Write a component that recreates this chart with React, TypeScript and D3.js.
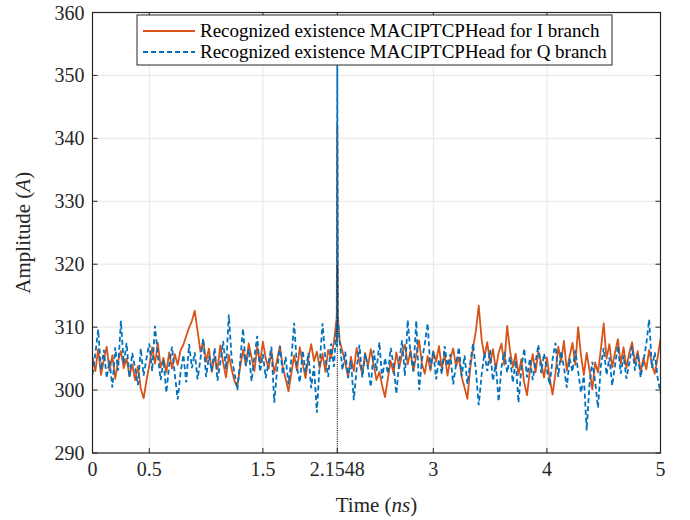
import React from "react";
import * as d3 from "d3";

// ---- Data (sampled every 0.025 ns from 0 to 5) ----
const timeStep = 0.025;
const iBranch = [
  305.2, 303.0, 306.5, 302.4, 304.8, 306.9, 303.1, 305.5, 301.8, 304.6,
  306.2, 303.5, 305.0, 302.2, 304.1, 301.6, 303.8, 300.2, 298.7, 301.5,
  303.9, 306.8, 304.2, 307.5, 303.6, 305.1, 302.8, 306.0, 303.4, 305.7,
  304.0, 306.3, 307.2, 308.6, 309.9, 311.0, 312.6, 309.4, 306.1, 307.8,
  304.5, 306.6, 302.9, 305.3, 303.2, 307.1, 304.4, 302.0, 305.6, 303.3,
  301.4, 300.6, 303.7, 306.4, 304.0, 307.4, 305.2, 303.0, 306.9, 304.3,
  307.7, 305.0, 303.4, 306.2, 302.7, 304.8, 307.0, 303.6, 301.8, 299.8,
  302.6, 305.5, 303.1, 306.8, 304.2, 301.9, 305.0, 307.3, 304.6, 306.1,
  303.5, 305.8, 302.9, 306.4, 305.1, 307.6, 308.5, 307.8, 306.2, 304.3,
  302.1, 305.3, 303.0, 306.7, 304.4, 302.5, 305.9, 303.8, 306.5, 304.0,
  301.6, 302.9, 300.7, 298.9, 301.8, 304.6, 302.7, 306.0, 303.5, 305.8,
  307.2, 304.1, 306.3, 303.0, 305.6, 307.9, 304.2, 302.6, 305.4, 303.1,
  306.2, 304.5, 307.0, 303.4, 305.7, 302.3, 304.9, 306.6, 303.8, 305.2,
  302.1, 300.4, 298.6, 303.5, 306.8, 309.4, 313.4, 308.1, 305.3, 307.6,
  304.2, 306.5, 303.3, 305.9, 307.4, 304.0, 310.2, 306.3, 303.6, 305.8,
  302.4, 304.9, 301.2, 299.2, 303.0, 305.7, 302.8, 306.1, 304.3, 302.0,
  305.2, 301.8, 299.3, 302.6, 306.9, 304.5, 307.8, 303.1, 305.4, 307.5,
  304.0, 310.0, 305.6, 302.4, 305.9, 303.2, 300.1, 304.4, 302.8, 306.5,
  310.6, 305.0, 307.3, 303.6, 306.0, 308.1, 304.2, 306.8, 303.5, 305.9,
  307.6, 304.3, 306.2, 302.9, 305.1, 303.3, 306.4, 304.0, 302.6, 305.2,
  308.2,
];
const qBranch = [
  302.5, 305.8, 309.6, 303.2, 306.4, 301.9, 304.7, 300.4, 306.8, 303.1,
  311.0, 304.2, 307.5, 302.0, 305.9, 303.4, 300.8, 306.6, 302.3, 305.0,
  307.4, 303.0, 310.2, 305.5, 301.6, 304.8, 299.6, 303.9, 306.9, 302.4,
  298.5, 302.8, 305.6, 301.2, 307.3, 303.5, 306.0, 301.7, 304.9, 308.2,
  302.1, 305.4, 303.0, 306.7, 301.5, 304.3, 307.8, 303.3, 312.0, 305.0,
  302.7, 300.0, 304.6, 309.8, 303.8, 306.5, 301.4, 305.2, 308.6, 302.9,
  305.7, 301.9, 304.4, 306.9, 298.0, 303.2, 307.0, 302.5, 305.3, 300.9,
  304.8, 310.7, 303.6, 301.2, 306.3, 302.8, 305.9, 300.3, 303.9, 296.4,
  304.2, 310.6, 305.0, 302.1, 307.4, 303.7, 306.9, 308.0, 303.2, 306.1,
  301.9, 304.7, 298.4, 303.3, 307.2, 302.0, 305.8, 303.5, 300.5, 306.3,
  303.0, 307.6, 301.8, 305.1, 302.6, 306.7, 303.9, 299.4, 304.5, 307.9,
  302.3, 311.1, 305.6, 303.0, 311.0, 300.0, 304.8, 307.3, 310.6, 303.4,
  306.2, 301.7, 304.9, 302.5, 307.0, 303.8, 305.7, 300.9, 304.1, 306.8,
  302.2, 305.5, 301.0, 304.3, 307.4, 303.1, 297.6, 302.4, 305.9, 303.0,
  306.4, 301.5, 304.2, 298.2, 303.6, 306.1, 302.8, 305.3, 301.2, 304.7,
  298.0, 303.4, 306.6, 302.0, 305.0, 301.6, 304.4, 307.2, 302.7, 305.8,
  303.3, 300.8, 304.9, 307.5, 302.1, 306.2, 303.6, 300.4, 305.0, 302.9,
  306.3, 303.0, 299.6, 302.2, 293.6, 300.9, 304.5, 301.3, 297.2, 303.8,
  306.7, 302.4, 305.2, 300.7, 304.0, 307.0, 302.6, 305.5, 301.8, 304.3,
  306.9, 303.1, 305.8, 302.0, 304.6, 307.3, 311.2, 303.5, 306.0, 301.9,
  299.6,
];
// Detected header peak
const peakTimes = [2.1498, 2.1548, 2.1598];
const peakI = [311.5, 342.0, 312.0];
const peakQ = [310.5, 351.6, 311.0];
const markerTime = 2.1548;
const markerTop = 320;

const xTicks = [0, 0.5, 1.5, 2.1548, 3, 4, 5];
const xTickLabels = ["0", "0.5", "1.5", "2.1548", "3", "4", "5"];
const yTicks = [290, 300, 310, 320, 330, 340, 350, 360];
const legendLabels = [
  "Recognized existence MACIPTCPHead for I branch",
  "Recognized existence MACIPTCPHead for Q branch",
];

type Pt = { t: number; v: number };
function buildSeries(values: number[], pv: number[]): Pt[] {
  const pts: Pt[] = values.map((v, i) => ({ t: +(i * timeStep).toFixed(4), v }));
  peakTimes.forEach((t, k) => pts.push({ t, v: pv[k] }));
  return pts.sort((a, b) => a.t - b.t);
}

const W = 690;
const H = 520;
const M = { left: 92.5, right: 660.5, top: 12.5, bottom: 453 };

export default function App() {
  const x = d3.scaleLinear().domain([0, 5]).range([M.left, M.right]);
  const y = d3.scaleLinear().domain([290, 360]).range([M.bottom, M.top]);
  const line = d3
    .line<Pt>()
    .x((d) => x(d.t))
    .y((d) => y(d.v));
  const sI = buildSeries(iBranch, peakI);
  const sQ = buildSeries(qBranch, peakQ);
  const orange = "#D95319";
  const blue = "#0072BD";
  const font = "'Liberation Serif', 'DejaVu Serif', serif";
  const tickLen = 5;
  return (
    <svg
      width={W}
      height={H}
      style={{ position: "absolute", left: 0, top: 0, background: "#fff" }}
      fontFamily={font}
    >
      <rect x={0} y={0} width={W} height={H} fill="#fff" />
      <defs>
        <clipPath id="plotclip">
          <rect x={M.left} y={M.top} width={M.right - M.left} height={M.bottom - M.top} />
        </clipPath>
      </defs>
      {/* grid */}
      <g stroke="#e6e6e6" strokeWidth={1}>
        {xTicks.map((t, i) => (
          <line key={"gx" + i} x1={x(t)} x2={x(t)} y1={M.top} y2={M.bottom} />
        ))}
        {yTicks.map((t, i) => (
          <line key={"gy" + i} x1={M.left} x2={M.right} y1={y(t)} y2={y(t)} />
        ))}
      </g>
      <g clipPath="url(#plotclip)">
        <path d={line(sI) || ""} fill="none" stroke={orange} strokeWidth={1.8} strokeLinejoin="round" />
        <path d={line(sQ) || ""} fill="none" stroke={blue} strokeWidth={1.8} strokeDasharray="5,3" />
        <line
          x1={x(markerTime)}
          x2={x(markerTime)}
          y1={y(290)}
          y2={y(markerTop)}
          stroke="#000"
          strokeWidth={1}
          strokeDasharray="1,1.2"
        />
      </g>
      {/* axes box */}
      <rect
        x={M.left}
        y={M.top}
        width={M.right - M.left}
        height={M.bottom - M.top}
        fill="none"
        stroke="#262626"
        strokeWidth={1.2}
      />
      <g stroke="#262626" strokeWidth={1}>
        {xTicks.map((t, i) => (
          <g key={"tx" + i}>
            <line x1={x(t)} x2={x(t)} y1={M.bottom} y2={M.bottom - tickLen} />
            <line x1={x(t)} x2={x(t)} y1={M.top} y2={M.top + tickLen} />
          </g>
        ))}
        {yTicks.map((t, i) => (
          <g key={"ty" + i}>
            <line x1={M.left} x2={M.left + tickLen} y1={y(t)} y2={y(t)} />
            <line x1={M.right} x2={M.right - tickLen} y1={y(t)} y2={y(t)} />
          </g>
        ))}
      </g>
      <g fontSize={20} fill="#262626">
        {xTicks.map((t, i) => (
          <text key={"lx" + i} x={x(t)} y={M.bottom + 23} textAnchor="middle">
            {xTickLabels[i]}
          </text>
        ))}
        {yTicks.map((t, i) => (
          <text key={"ly" + i} x={M.left - 8} y={y(t) + 7} textAnchor="end">
            {t}
          </text>
        ))}
      </g>
      <text x={(M.left + M.right) / 2} y={512} textAnchor="middle" fontSize={21} fill="#262626">
        Time
        <tspan fontStyle="normal"> (</tspan>
        <tspan fontStyle="italic">ns</tspan>
        <tspan>)</tspan>
      </text>
      <text
        transform={`translate(30, ${(M.top + M.bottom) / 2}) rotate(-90)`}
        textAnchor="middle"
        fontSize={21}
        fill="#262626"
      >
        Amplitude (<tspan fontStyle="italic">A</tspan>)
      </text>
      {/* legend */}
      <g>
        <rect x={137} y={15} width={475} height={50} fill="#fff" stroke="#262626" strokeWidth={1} />
        <line x1={143} x2={195} y1={31} y2={31} stroke={orange} strokeWidth={1.8} />
        <line x1={143} x2={195} y1={52} y2={52} stroke={blue} strokeWidth={1.8} strokeDasharray="5,3" />
        <text x={200} y={37} fontSize={19} fill="#000">
          {legendLabels[0]}
        </text>
        <text x={200} y={58} fontSize={19} fill="#000">
          {legendLabels[1]}
        </text>
      </g>
    </svg>
  );
}
